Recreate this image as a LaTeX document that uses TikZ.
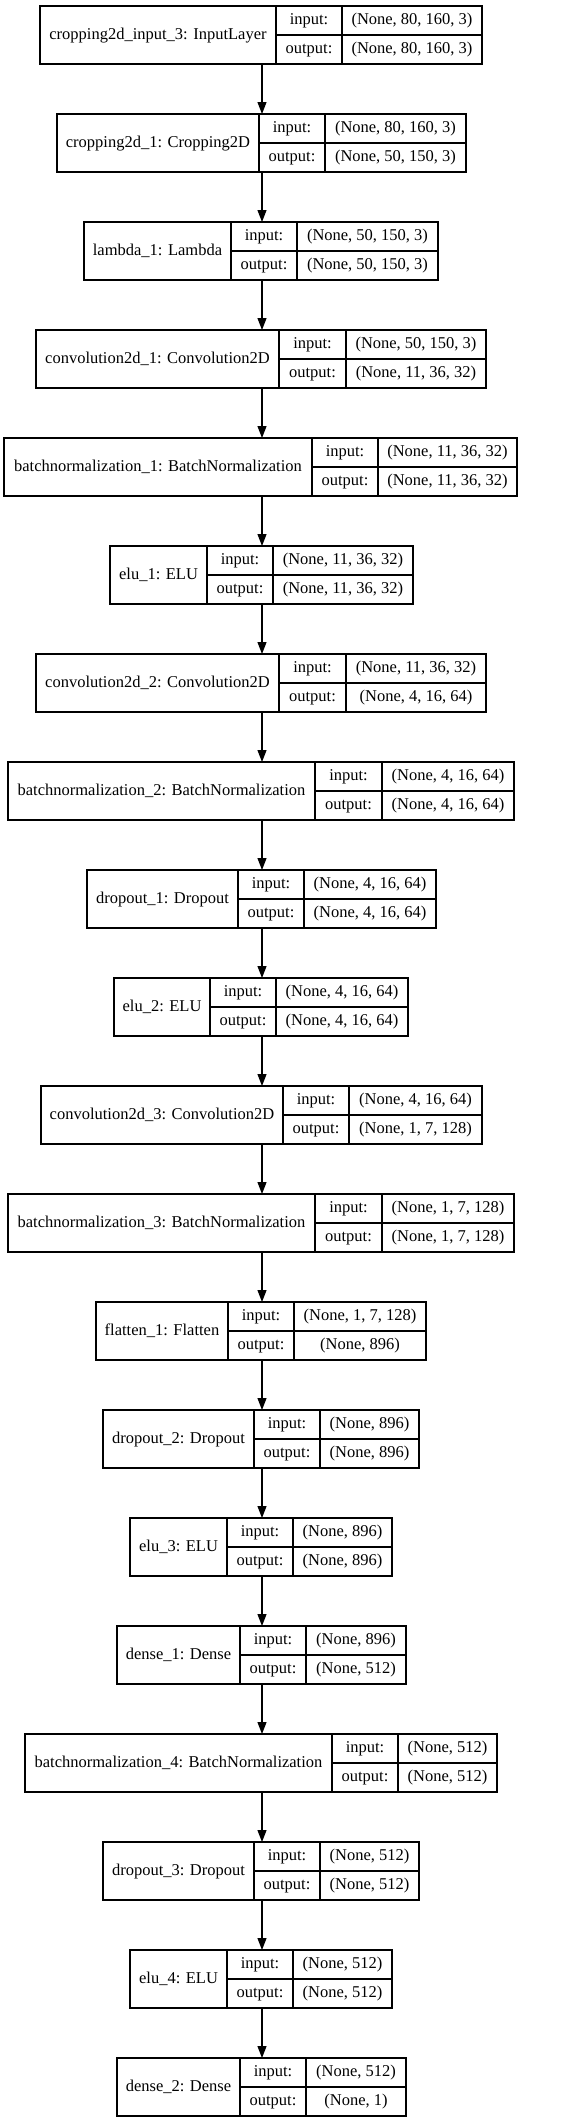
\documentclass[tikz,border=0pt]{standalone}
\usepackage{fontspec}
\setmainfont{Liberation Serif}
\usetikzlibrary{arrows.meta}
\tikzset{
  box/.style={draw=black, line width=1.2bp, rectangle, inner sep=0pt, outer sep=0pt, fill=white},
  divline/.style={draw=black, line width=1.2bp},
  txt/.style={inner sep=0pt, text height=11.5bp, text depth=3.5bp, font=\fontsize{16.5bp}{19bp}\selectfont},
  arr/.style={draw=black, line width=1.2bp, -{Triangle[length=12bp,width=9bp]}}
}
% #1 name, #2 index, #3 left, #4 divider1, #5 divider2, #6 right, #7 label, #8 input, #9 output
\newcommand\kLayer[9]{%
  \pgfmathsetmacro\kTy{6+108*(#2-1)}%
  \pgfmathsetmacro\kBy{\kTy+58}%
  \pgfmathsetmacro\kMy{\kTy+29}%
  \pgfmathsetmacro\kWid{#6-#3}%
  \node[box, minimum width=\kWid bp, minimum height=58bp] (#1) at ({(#3+#6)/2},\kMy) {};
  \draw[divline] (#4,\kTy) -- (#4,\kBy) (#5,\kTy) -- (#5,\kBy) (#4,\kMy) -- (#6,\kMy);
  \node[txt] (#1-name) at ({(#3+#4)/2},\kMy) {#7};
  \node[txt] (#1-il) at ({(#4+#5)/2},{\kTy+14.5}) {input:};
  \node[txt] (#1-ol) at ({(#4+#5)/2},{\kTy+43.5}) {output:};
  \node[txt] (#1-iv) at ({(#5+#6)/2},{\kTy+14.5}) {#8};
  \node[txt] (#1-ov) at ({(#5+#6)/2},{\kTy+43.5}) {#9};
}
\begin{document}
\begin{tikzpicture}[x=1bp, y=-1bp]
\useasboundingbox (0,0) rectangle (588,2123);
\coordinate (axis) at (262,0);
\kLayer{in3}{1}{40}{276}{342}{482}{cropping2d\_input\_3: InputLayer}{(None, 80, 160, 3)}{(None, 80, 160, 3)}
\kLayer{crop1}{2}{57}{259}{325}{466}{cropping2d\_1: Cropping2D}{(None, 80, 160, 3)}{(None, 50, 150, 3)}
\kLayer{lam1}{3}{84}{231}{297}{438}{lambda\_1: Lambda}{(None, 50, 150, 3)}{(None, 50, 150, 3)}
\kLayer{conv1}{4}{36}{279}{346}{486}{convolution2d\_1: Convolution2D}{(None, 50, 150, 3)}{(None, 11, 36, 32)}
\kLayer{bn1}{5}{4}{312}{378}{517}{batchnormalization\_1: BatchNormalization}{(None, 11, 36, 32)}{(None, 11, 36, 32)}
\kLayer{elu1}{6}{110}{207}{273}{413}{elu\_1: ELU}{(None, 11, 36, 32)}{(None, 11, 36, 32)}
\kLayer{conv2}{7}{36}{279}{346}{486}{convolution2d\_2: Convolution2D}{(None, 11, 36, 32)}{(None, 4, 16, 64)}
\kLayer{bn2}{8}{8}{315}{382}{514}{batchnormalization\_2: BatchNormalization}{(None, 4, 16, 64)}{(None, 4, 16, 64)}
\kLayer{drop1}{9}{87}{238}{304}{436}{dropout\_1: Dropout}{(None, 4, 16, 64)}{(None, 4, 16, 64)}
\kLayer{elu2}{10}{114}{210}{276}{408}{elu\_2: ELU}{(None, 4, 16, 64)}{(None, 4, 16, 64)}
\kLayer{conv3}{11}{41}{283}{349}{482}{convolution2d\_3: Convolution2D}{(None, 4, 16, 64)}{(None, 1, 7, 128)}
\kLayer{bn3}{12}{8}{315}{382}{514}{batchnormalization\_3: BatchNormalization}{(None, 1, 7, 128)}{(None, 1, 7, 128)}
\kLayer{flat1}{13}{96}{228}{294}{426}{flatten\_1: Flatten}{(None, 1, 7, 128)}{(None, 896)}
\kLayer{drop2}{14}{103}{254}{320}{419}{dropout\_2: Dropout}{(None, 896)}{(None, 896)}
\kLayer{elu3}{15}{130}{227}{293}{392}{elu\_3: ELU}{(None, 896)}{(None, 896)}
\kLayer{dense1}{16}{117}{240}{306}{406}{dense\_1: Dense}{(None, 896)}{(None, 512)}
\kLayer{bn4}{17}{25}{332}{398}{497}{batchnormalization\_4: BatchNormalization}{(None, 512)}{(None, 512)}
\kLayer{drop3}{18}{103}{254}{320}{419}{dropout\_3: Dropout}{(None, 512)}{(None, 512)}
\kLayer{elu4}{19}{130}{227}{293}{392}{elu\_4: ELU}{(None, 512)}{(None, 512)}
\kLayer{dense2}{20}{117}{240}{306}{406}{dense\_2: Dense}{(None, 512)}{(None, 1)}
\foreach \a/\b in {in3/crop1, crop1/lam1, lam1/conv1, conv1/bn1, bn1/elu1, elu1/conv2, conv2/bn2, bn2/drop1, drop1/elu2, elu2/conv3, conv3/bn3, bn3/flat1, flat1/drop2, drop2/elu3, elu3/dense1, dense1/bn4, bn4/drop3, drop3/elu4, elu4/dense2}
  \draw[arr] (\a.south -| axis) -- (\b.north -| axis);
\end{tikzpicture}
\end{document}
